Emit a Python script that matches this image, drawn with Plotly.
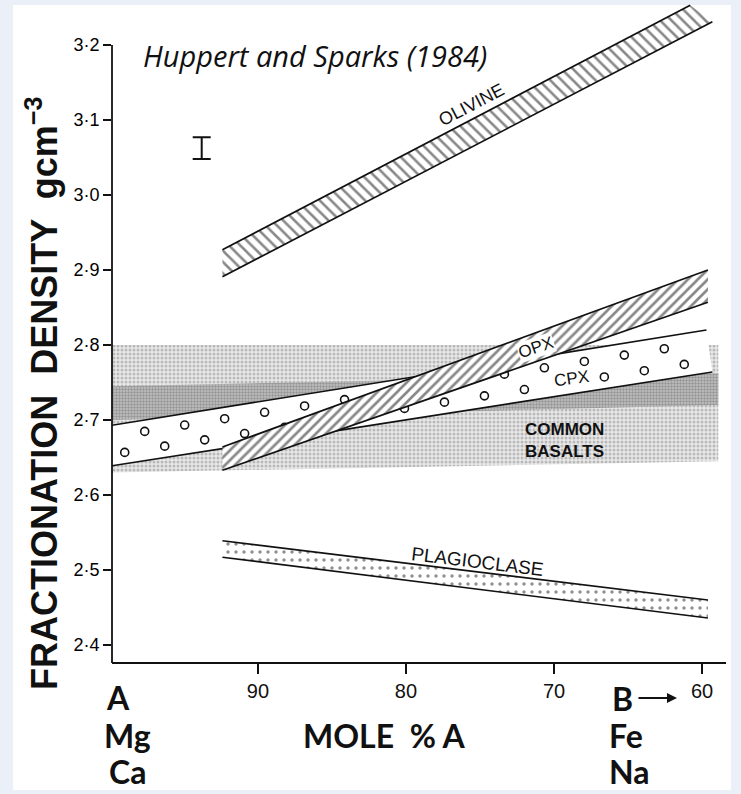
import numpy as np
import plotly.graph_objects as go

# ---------------- data ----------------
X_TICKS = [90, 80, 70, 60]
Y_TICKS = [2.4, 2.5, 2.6, 2.7, 2.8, 2.9, 3.0, 3.1, 3.2]
Y_TICK_TEXT = ["2·4", "2·5", "2·6", "2·7", "2·8", "2·9", "3·0", "3·1", "3·2"]

# band edges: [x_start, x_end], [y_start, y_end]
OLIV_TOP_X = [92.4, 60.8]
OLIV_TOP_Y = [2.927, 3.253]
OLIV_BOT_X = [92.4, 59.3]
OLIV_BOT_Y = [2.891, 3.231]

OPX_TOP_X = [92.4, 59.6]
OPX_TOP_Y = [2.664, 2.900]
OPX_BOT_X = [92.4, 59.6]
OPX_BOT_Y = [2.633, 2.857]

CPX_TOP_X = [99.86, 59.7]
CPX_TOP_Y = [2.693, 2.820]
CPX_BOT_X = [99.86, 59.3]
CPX_BOT_Y = [2.639, 2.764]

PLAG_TOP_X = [92.4, 59.6]
PLAG_TOP_Y = [2.539, 2.460]
PLAG_BOT_X = [92.4, 59.6]
PLAG_BOT_Y = [2.517, 2.436]

BAS_X = [99.86, 58.9]
BAS_TOP_Y = [2.800, 2.800]
BAS_BOT_Y = [2.630, 2.645]
BAS_DARK_TOP_Y = [2.745, 2.762]
BAS_DARK_BOT_Y = [2.700, 2.720]

ERR_X = [93.8]
ERR_Y = [3.0625]
ERR_HALF = [0.0145]

X_RANGE = [99.86, 58.38]
Y_RANGE = [2.376, 3.2547]

# ---------------- figure ----------------
W, H = 741, 794
ML, MR, MT, MB = 112, 15, 4, 131
PW, PH = W - ML - MR, H - MT - MB


def px_to_paper_x(px):
    return (px - ML) / PW


def px_to_paper_y(py):
    return (H - MB - py) / PH


fig = go.Figure()


def band(xt, yt, xb, yb, pattern, name, edge=True):
    xs = [xb[0], xb[1], xt[1], xt[0], xb[0]]
    ys = [yb[0], yb[1], yt[1], yt[0], yb[0]]
    fig.add_trace(go.Scatter(x=xs, y=ys, mode="lines", fill="toself",
                             line=dict(width=0, color="rgba(0,0,0,0)"),
                             fillcolor="white", fillpattern=pattern,
                             hoverinfo="skip", showlegend=False, name=name))
    if edge:
        for ex, ey in ((xt, yt), (xb, yb)):
            fig.add_trace(go.Scatter(x=ex, y=ey, mode="lines",
                                     line=dict(color="#111", width=1.7),
                                     hoverinfo="skip", showlegend=False))


# common basalts: light stipple + darker stipple band
fig.add_trace(go.Scatter(
    x=[BAS_X[0], BAS_X[1], BAS_X[1], BAS_X[0], BAS_X[0]],
    y=[BAS_BOT_Y[0], BAS_BOT_Y[1], BAS_TOP_Y[1], BAS_TOP_Y[0], BAS_BOT_Y[0]],
    mode="lines", fill="toself", line=dict(width=0, color="rgba(0,0,0,0)"),
    fillcolor="#dcdcdc",
    fillpattern=dict(shape=".", size=4, solidity=0.45, fgcolor="#8a8a8a", bgcolor="#e8e8e8"),
    hoverinfo="skip", showlegend=False))
fig.add_trace(go.Scatter(
    x=[BAS_X[0], BAS_X[1], BAS_X[1], BAS_X[0], BAS_X[0]],
    y=[BAS_DARK_BOT_Y[0], BAS_DARK_BOT_Y[1], BAS_DARK_TOP_Y[1], BAS_DARK_TOP_Y[0], BAS_DARK_BOT_Y[0]],
    mode="lines", fill="toself", line=dict(width=0, color="rgba(0,0,0,0)"),
    fillcolor="#b8b8b8",
    fillpattern=dict(shape=".", size=3, solidity=0.5, fgcolor="#666666", bgcolor="#c2c2c2"),
    hoverinfo="skip", showlegend=False))

# CPX band (white with open circles)
band(CPX_TOP_X, CPX_TOP_Y, CPX_BOT_X, CPX_BOT_Y, None, "CPX")
# circle texture inside CPX band
cx = np.arange(99.0, 59.9, -1.35)
frac = np.where(np.arange(len(cx)) % 2 == 0, 0.28, 0.72)
ylo = np.interp(cx, CPX_BOT_X[::-1], CPX_BOT_Y[::-1])
yhi = np.interp(cx, CPX_TOP_X[::-1], CPX_TOP_Y[::-1])
cy = ylo + frac * (yhi - ylo)
fig.add_trace(go.Scatter(x=cx, y=cy, mode="markers",
                         marker=dict(symbol="circle-open", size=8, color="#111",
                                     line=dict(width=1.6, color="#111")),
                         hoverinfo="skip", showlegend=False))

# OPX band
band(OPX_TOP_X, OPX_TOP_Y, OPX_BOT_X, OPX_BOT_Y,
     dict(shape="/", size=7, solidity=0.38, fgcolor="#111", bgcolor="white"), "OPX")

# Plagioclase band
band(PLAG_TOP_X, PLAG_TOP_Y, PLAG_BOT_X, PLAG_BOT_Y,
     dict(shape=".", size=8, solidity=0.15, fgcolor="#222", bgcolor="white"), "PLAG")

# Olivine band
band(OLIV_TOP_X, OLIV_TOP_Y, OLIV_BOT_X, OLIV_BOT_Y,
     dict(shape="\\", size=8, solidity=0.32, fgcolor="#111", bgcolor="white"), "OLIVINE")

# error bar
fig.add_trace(go.Scatter(x=ERR_X, y=ERR_Y, mode="markers",
                         marker=dict(size=1, color="rgba(0,0,0,0)"),
                         error_y=dict(type="data", array=ERR_HALF, width=9,
                                      thickness=2, color="#111"),
                         hoverinfo="skip", showlegend=False))

shapes = [
    # white panel
    dict(type="rect", xref="paper", yref="paper",
         x0=px_to_paper_x(13), x1=px_to_paper_x(731),
         y0=px_to_paper_y(790), y1=px_to_paper_y(5),
         fillcolor="white", line=dict(width=0), layer="below"),
    # left axis line (to 3.2)
    dict(type="line", xref="paper", yref="y", x0=0, x1=0,
         y0=Y_RANGE[0], y1=3.2, line=dict(color="#111", width=1.8)),
    # bottom axis line
    dict(type="line", xref="paper", yref="paper", x0=0, x1=1, y0=0, y1=0,
         line=dict(color="#111", width=1.8)),
]

band_font = dict(family="Liberation Sans", size=17, color="#111")
big_font = dict(family="Lato", size=32, color="#111", weight="bold")


def ptxt(text, px, py, font, xanchor="center", **kw):
    return dict(text=text, xref="paper", yref="paper",
                x=px_to_paper_x(px), y=px_to_paper_y(py),
                xanchor=xanchor, yanchor="middle", showarrow=False, font=font, **kw)


annotations = [
    ptxt("Huppert and Sparks (1984)", 141, 55,
         dict(family="Open Sans", size=29, color="#111", style="italic"), xanchor="left"),
    dict(text="OLIVINE", x=75.6, y=3.12, textangle=-27.5, showarrow=False,
         xanchor="center", yanchor="middle",
         font=dict(family="Liberation Sans", size=18, color="#111")),
    dict(text="OPX", x=71.2, y=2.797, textangle=-19, showarrow=False,
         xanchor="center", yanchor="middle", bgcolor="white", borderpad=0, font=band_font),
    dict(text="CPX", x=68.8, y=2.756, textangle=-8, showarrow=False,
         xanchor="center", yanchor="middle", bgcolor="white", borderpad=0, font=band_font),
    dict(text="COMMON<br>BASALTS", x=69.3, y=2.673, showarrow=False, align="left",
         xanchor="center", yanchor="middle",
         font=dict(family="Liberation Sans", size=17, color="#111", weight="bold")),
    dict(text="PLAGIOCLASE", x=75.2, y=2.512, textangle=7, showarrow=False,
         xanchor="center", yanchor="middle",
         font=dict(family="Liberation Sans", size=19, color="#111")),
    ptxt("FRACTIONATION  DENSITY  gcm<sup>−3</sup>", 42, 394,
         dict(family="Liberation Sans", size=36, color="#111", weight="bold"), textangle=-90),
    ptxt("A", 118, 697, big_font),
    ptxt("Mg", 127, 735, big_font),
    ptxt("Ca", 127, 771, big_font),
    ptxt("MOLE  % A", 384, 735, big_font),
    ptxt("B", 610, 698, big_font, xanchor="left"),
    ptxt("Fe", 607, 735, big_font, xanchor="left"),
    ptxt("Na", 607, 771, big_font, xanchor="left"),
    dict(text="", xref="paper", yref="paper", x=px_to_paper_x(677), y=px_to_paper_y(698),
         ax=-40, ay=0, showarrow=True, arrowhead=2, arrowsize=1, arrowwidth=2,
         arrowcolor="#111"),
]

fig.update_layout(
    width=W, height=H,
    margin=dict(l=ML, r=MR, t=MT, b=MB),
    paper_bgcolor="#ebf0f8", plot_bgcolor="rgba(0,0,0,0)",
    showlegend=False, shapes=shapes, annotations=annotations,
    xaxis=dict(range=X_RANGE, tickvals=X_TICKS, ticks="outside", ticklen=10,
               tickwidth=1.5, tickcolor="#111", showgrid=False, zeroline=False,
               showline=False, tickfont=dict(family="Liberation Sans", size=20, color="#111")),
    yaxis=dict(range=Y_RANGE, tickvals=Y_TICKS, ticktext=Y_TICK_TEXT, ticks="outside",
               ticklen=8, tickwidth=1.5, tickcolor="#111", showgrid=False, zeroline=False,
               showline=False, tickfont=dict(family="Liberation Sans", size=18, color="#000")),
)

fig.write_html("out.html", config={"displayModeBar": False},
               post_script="document.body.style.margin='0px';")
